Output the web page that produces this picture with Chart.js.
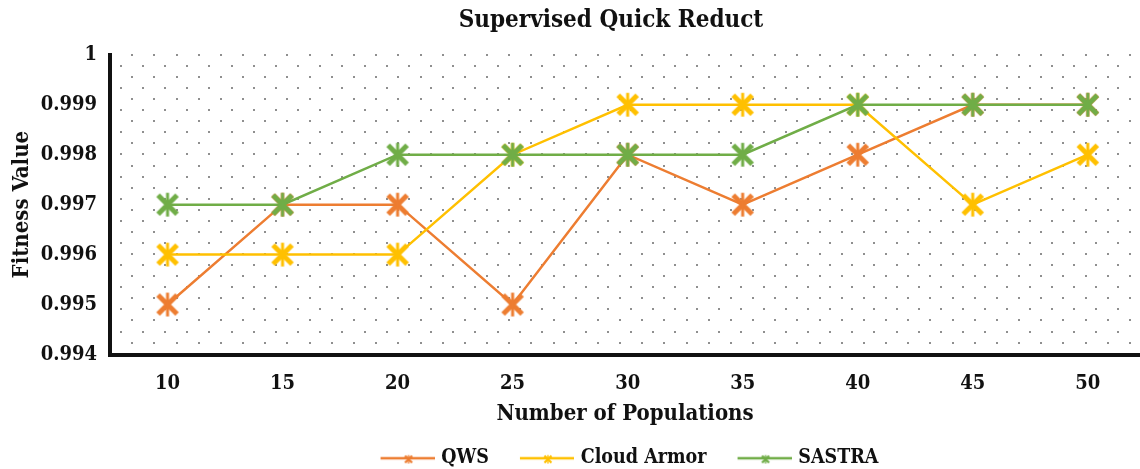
<!DOCTYPE html>
<html lang="en">
<head>
<meta charset="UTF-8">
<title>Supervised Quick Reduct</title>
<script src="https://cdn.jsdelivr.net/npm/chart.js"></script>
<style>
  html, body { margin: 0; padding: 0; background: #fff; overflow: hidden; }
  #wrap { width: 1140px; height: 469px; }
</style>
</head>
<body>
<div id="wrap"><canvas id="chart"></canvas></div>
<script>
// data
const populations = [10, 15, 20, 25, 30, 35, 40, 45, 50];
const qws        = [0.995, 0.997, 0.997, 0.995, 0.998, 0.997, 0.998, 0.999, 0.999];
const cloudArmor = [0.996, 0.996, 0.996, 0.998, 0.999, 0.999, 0.999, 0.997, 0.998];
const sastra     = [0.997, 0.997, 0.998, 0.998, 0.998, 0.998, 0.999, 0.999, 0.999];
const yTicks = [0.994, 0.995, 0.996, 0.997, 0.998, 0.999, 1];

const ORANGE = '#ED7D31', YELLOW = '#FFC000', GREEN = '#70AD47';
const FONT = "'DejaVu Serif Condensed', 'DejaVu Serif', serif";

// Excel-like star marker: an X with a vertical bar through it
function starMarker(color, r, lw) {
  const size = Math.ceil(2 * r + lw + 4);
  const c = document.createElement('canvas');
  c.width = size; c.height = size;
  const g = c.getContext('2d');
  const m = size / 2;
  g.strokeStyle = color;
  g.lineWidth = lw;
  g.beginPath();
  g.moveTo(m - r, m - r); g.lineTo(m + r, m + r);
  g.moveTo(m + r, m - r); g.lineTo(m - r, m + r);
  g.stroke();
  g.lineWidth = lw * 0.6;
  g.beginPath();
  g.moveTo(m, m - r * 1.25); g.lineTo(m, m + r * 1.25);
  g.stroke();
  return c;
}

// legend icon: a short line with a small marker, left part kept empty as spacing
const ICON_GAP = 32, ICON_LEN = 54;
function legendIcon(color) {
  const c = document.createElement('canvas');
  c.width = ICON_GAP + ICON_LEN; c.height = 12;
  const g = c.getContext('2d');
  g.strokeStyle = color;
  g.lineWidth = 2.5;
  g.beginPath(); g.moveTo(ICON_GAP, 6); g.lineTo(ICON_GAP + ICON_LEN, 6); g.stroke();
  g.drawImage(starMarker(color, 3.5, 2.2), ICON_GAP + ICON_LEN / 2 - 6, 0);
  return c;
}

const colors = [ORANGE, YELLOW, GREEN];
const legendIcons = colors.map(legendIcon);

const toPoints = vals => vals.map((v, i) => ({ x: populations[i], y: v }));

// staggered dot fill behind the plot
const dotFill = {
  id: 'dotFill',
  beforeDraw(chart) {
    const { ctx, chartArea: a } = chart;
    ctx.save();
    ctx.fillStyle = '#8f8f8f';
    const dy = 11.07, dx = 22.17;
    for (let j = 0; a.top + j * dy < a.bottom - 2; j++) {
      const y = a.top + j * dy;
      for (let x = a.left + (j % 2 ? 10.7 : 22.3); x < a.right; x += dx) {
        ctx.fillRect(Math.round(x) - 1, Math.round(y) - 1, 2, 2);
      }
    }
    ctx.restore();
  }
};

// nudge title and legend sideways to where the reference has them
const nudge = {
  id: 'nudge',
  afterLayout(chart) {
    const move = (box, dx) => { if (box) { box.left += dx; box.right += dx; } };
    move(chart.titleBlock, -14);
    move(chart.legend, -10);
  }
};

const series = [
  { label: 'QWS', data: qws, order: 3 },
  { label: 'Cloud Armor', data: cloudArmor, order: 2 },
  { label: 'SASTRA', data: sastra, order: 1 }
];

new Chart(document.getElementById('chart'), {
  type: 'line',
  data: {
    datasets: series.map((s, i) => ({
      label: s.label,
      data: toPoints(s.data),
      order: s.order,
      borderColor: colors[i],
      backgroundColor: colors[i],
      borderWidth: 2.5,
      tension: 0,
      pointStyle: starMarker(colors[i], 9.5, 5),
      pointRadius: 10
    }))
  },
  options: {
    responsive: true,
    maintainAspectRatio: false,
    animation: false,
    layout: { autoPadding: false, padding: { left: 0, right: 0, top: 0, bottom: -9 } },
    plugins: {
      title: {
        display: true,
        text: 'Supervised Quick Reduct',
        color: '#111',
        fullSize: false,
        font: { family: FONT, size: 24, weight: 'bold' },
        padding: { top: 6, bottom: 20 }
      },
      legend: {
        position: 'bottom',
        fullSize: false,
        labels: {
          usePointStyle: true,
          pointStyleWidth: ICON_GAP + ICON_LEN - 6,
          padding: 2,
          color: '#111',
          font: { family: FONT, size: 19.5, weight: 'bold' },
          generateLabels(chart) {
            const items = Chart.defaults.plugins.legend.labels.generateLabels(chart);
            items.forEach(it => { it.pointStyle = legendIcons[it.datasetIndex]; });
            return items.sort((a, b) => a.datasetIndex - b.datasetIndex);
          }
        }
      },
      tooltip: { enabled: false }
    },
    scales: {
      x: {
        type: 'linear',
        min: 7.5,
        max: 52.27,
        afterBuildTicks: s => { s.ticks = populations.map(v => ({ value: v })); },
        afterFit: s => { s.height = 92; s.paddingLeft = 0; s.paddingRight = 0; },
        grid: { display: false, drawTicks: false },
        border: { color: '#111', width: 4 },
        ticks: { color: '#111', padding: 17, font: { family: FONT, size: 20, weight: 'bold' } },
        title: {
          display: true,
          text: 'Number of Populations',
          color: '#111',
          font: { family: FONT, size: 22, weight: 'bold' },
          padding: { top: 4, bottom: 19 }
        }
      },
      y: {
        min: 0.994,
        max: 1,
        afterBuildTicks: s => { s.ticks = yTicks.map(v => ({ value: v })); },
        afterFit: s => { s.width = 110; s.paddingTop = 0; s.paddingBottom = 0; },
        grid: { display: false, drawTicks: false },
        border: { color: '#111', width: 4 },
        ticks: {
          color: '#111',
          padding: 13,
          font: { family: FONT, size: 20, weight: 'bold' },
          callback: v => String(+(+v).toFixed(3))
        },
        title: {
          display: true,
          text: 'Fitness Value',
          color: '#111',
          font: { family: FONT, size: 22, weight: 'bold' },
          padding: { top: 9, bottom: 0 }
        }
      }
    }
  },
  plugins: [dotFill, nudge]
});
</script>
</body>
</html>
